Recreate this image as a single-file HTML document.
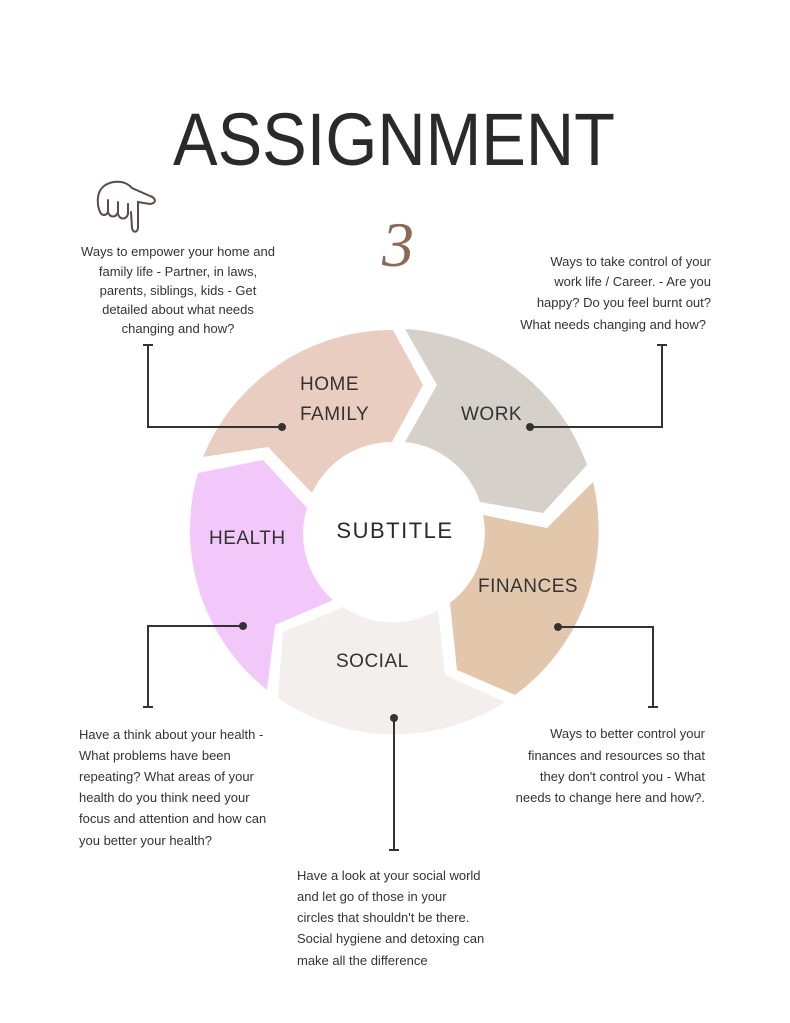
<!DOCTYPE html>
<html><head><meta charset="utf-8"><style>
html,body{margin:0;padding:0;background:#fff}
svg{display:block}
.t{font-family:"Liberation Sans",sans-serif;font-size:13px;fill:#333}
.l{font-family:"Liberation Sans",sans-serif;font-size:19px;fill:#333;letter-spacing:0.5px}
</style></head><body>
<svg width="790" height="1023" viewBox="0 0 790 1023" xmlns="http://www.w3.org/2000/svg">
<rect width="790" height="1023" fill="#fff"/>
<text x="394" y="165" text-anchor="middle" font-family="Liberation Sans, sans-serif" font-size="74" fill="#2a2a2a" textLength="442" lengthAdjust="spacingAndGlyphs">ASSIGNMENT</text>
<!-- hand -->
<g fill="none" stroke="#5a4a48" stroke-width="2" stroke-linecap="round">
<path d="M104 186 C96 192 97 205 100 212 M104 186 C112 180 125 180 132 188 L150 196 C156 198 157 203 150 204 L138 202 L138 228 C137 233 133 233 132 228 L131 212 M100 212 C102 216 106 216 108 212 L108 200 M108 212 C110 218 116 218 118 212 L118 202 M118 214 C120 220 126 220 128 214 L128 204"/>
</g>
<text x="398" y="266" text-anchor="middle" font-family="Liberation Serif, serif" font-style="italic" font-size="64" fill="#8a6a55">3</text>
<!-- wheel -->
<path fill="#e8cdc0" d="M393 330 L423 385 L392 442 A88 88 0 0 0 312 493 L268 447 L203 457 A205 205 0 0 1 393 330 Z"/>
<path fill="#d6d0cb" d="M405 329 L437 385 L405 442 A88 88 0 0 1 480 502 L543 513 L587 465 A205 205 0 0 0 405 329 Z"/>
<path fill="#e2c7ac" d="M593 482 L547 528 L483 515 A88 88 0 0 1 450 603 L457 670 L515 695 A205 205 0 0 0 593 482 Z"/>
<path fill="#f2efec" d="M505 702 L445 675 L438 610 A88 88 0 0 1 343 607 L283 632 L278 698 A205 205 0 0 0 505 702 Z"/>
<path fill="#f2c8fb" d="M267 690 L275 625 L333 600 A88 88 0 0 1 307 508 L263 460 L198 473 A205 205 0 0 0 267 690 Z"/>
<text class="l" x="300" y="390">HOME</text>
<text class="l" x="300" y="420">FAMILY</text>
<text class="l" x="461" y="420">WORK</text>
<text class="l" x="478" y="592">FINANCES</text>
<text class="l" x="336" y="667">SOCIAL</text>
<text class="l" x="209" y="544">HEALTH</text>
<text x="395" y="538" text-anchor="middle" font-family="Liberation Sans, sans-serif" font-size="22" fill="#2a2a2a" letter-spacing="1.5">SUBTITLE</text>
<!-- connectors -->
<g stroke="#333" stroke-width="2" fill="none">
<path d="M282 427 H148 V345 M143 345 H153"/>
<path d="M530 427 H662 V345 M657 345 H667"/>
<path d="M558 627 H653 V707 M648 707 H658"/>
<path d="M243 626 H148 V707 M143 707 H153"/>
<path d="M394 718 V850 M389 850 H399"/>
</g>
<g fill="#333">
<circle cx="282" cy="427" r="4"/><circle cx="530" cy="427" r="4"/>
<circle cx="558" cy="627" r="4"/><circle cx="243" cy="626" r="4"/>
<circle cx="394" cy="718" r="4"/>
</g>
<!-- texts -->
<g class="t" text-anchor="middle">
<text x="178" y="256">Ways to empower your home and</text>
<text x="178" y="276">family life - Partner, in laws,</text>
<text x="178" y="295">parents, siblings, kids - Get</text>
<text x="178" y="314">detailed about what needs</text>
<text x="178" y="333">changing and how?</text>
</g>
<g class="t" text-anchor="end">
<text x="711" y="266">Ways to take control of your</text>
<text x="711" y="286">work life / Career. - Are you</text>
<text x="711" y="307">happy? Do you feel burnt out?</text>
<text x="706" y="329">What needs changing and how?</text>
<text x="705" y="738">Ways to better control your</text>
<text x="705" y="760">finances and resources so that</text>
<text x="705" y="781">they don't control you - What</text>
<text x="705" y="802">needs to change here and how?.</text>
</g>
<g class="t">
<text x="79" y="739">Have a think about your health -</text>
<text x="79" y="760">What problems have been</text>
<text x="79" y="781">repeating? What areas of your</text>
<text x="79" y="802">health do you think need your</text>
<text x="79" y="823">focus and attention and how can</text>
<text x="79" y="845">you better your health?</text>
<text x="297" y="880">Have a look at your social world</text>
<text x="297" y="901">and let go of those in your</text>
<text x="297" y="922">circles that shouldn't be there.</text>
<text x="297" y="943">Social hygiene and detoxing can</text>
<text x="297" y="965">make all the difference</text>
</g>
</svg>
</body></html>
